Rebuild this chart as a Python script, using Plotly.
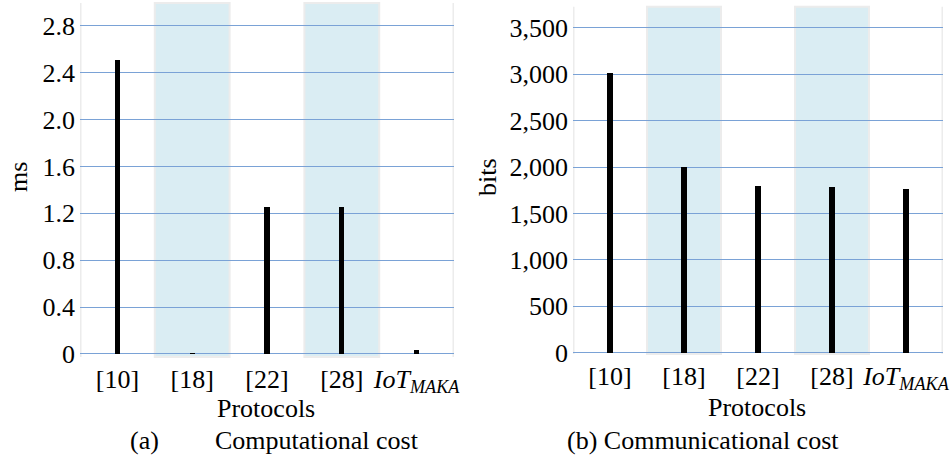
import plotly.graph_objects as go

protocols = ["[10]", "[18]", "[22]", "[28]", "<i>IoT<sub>MAKA</sub></i>"]
comp_cost_ms = [2.505, 0.008, 1.25, 1.25, 0.035]
comm_cost_bits = [3016, 2008, 1796, 1786, 1772]
comp_ticks = [0, 0.4, 0.8, 1.2, 1.6, 2.0, 2.4, 2.8]
comp_ticktext = ["0", "0.4", "0.8", "1.2", "1.6", "2.0", "2.4", "2.8"]
comm_ticks = [0, 500, 1000, 1500, 2000, 2500, 3000, 3500]

FONT = "Liberation Serif"
FS = 26
BAND = "#daedf3"
EDGE = "#ececec"
GRID = "#7aa2d6"

W, H = 952, 459
def px_x(x0, x1):
    return [x0 / W, x1 / W]
def px_y(top, bottom):
    return [1 - bottom / H, 1 - top / H]

xs = list(range(len(protocols)))

fig = go.Figure()
fig.add_trace(go.Bar(x=xs, y=comp_cost_ms, width=0.068, marker=dict(color="black", line=dict(width=0)),
                     xaxis="x", yaxis="y", showlegend=False))
fig.add_trace(go.Bar(x=xs, y=comm_cost_bits, width=0.068, marker=dict(color="black", line=dict(width=0)),
                     xaxis="x2", yaxis="y2", showlegend=False))

shapes = []
for xr, yr in (("x", "y"), ("x2", "y2")):
    for c in (1, 3):
        shapes.append(dict(type="rect", xref=xr, yref=yr + " domain", x0=c - 0.5, x1=c + 0.5, y0=0, y1=1,
                           fillcolor=BAND, line=dict(color=EDGE, width=2), layer="below"))
    for e in (-0.5, 4.5):
        shapes.append(dict(type="line", xref=xr, yref=yr + " domain", x0=e, x1=e, y0=0, y1=1,
                           line=dict(color=EDGE, width=3), layer="below"))

axis_common = dict(showline=False, zeroline=False, ticks="", automargin=False,
                   tickfont=dict(family=FONT, size=FS, color="black"))

fig.update_layout(
    width=W, height=H,
    margin=dict(l=0, r=0, t=0, b=0),
    paper_bgcolor="white", plot_bgcolor="rgba(0,0,0,0)",
    bargap=0,
    shapes=shapes,
    xaxis=dict(domain=px_x(80, 454), range=[-0.5, 4.5], tickvals=xs, ticktext=protocols,
               showgrid=False, anchor="y", ticklabelstandoff=4, **axis_common),
    yaxis=dict(domain=px_y(3, 357), range=[-0.026, 2.994], tickvals=comp_ticks, ticktext=comp_ticktext,
               showgrid=True, gridcolor=GRID, gridwidth=1, anchor="x", ticklabelstandoff=4, **axis_common),
    xaxis2=dict(domain=px_x(573, 943), range=[-0.5, 4.5], tickvals=xs, ticktext=protocols,
                showgrid=False, anchor="y2", ticklabelstandoff=4, **axis_common),
    yaxis2=dict(domain=px_y(6.7, 354), range=[-14, 3728], tickvals=comm_ticks, tickformat=",",
                showgrid=True, gridcolor=GRID, gridwidth=1, anchor="x2", ticklabelstandoff=4, **axis_common),
)

def ann(text, x, y, angle=0):
    fig.add_annotation(text=text, x=x / W, y=1 - y / H, xref="paper", yref="paper", showarrow=False,
                       xanchor="center", yanchor="middle", textangle=angle,
                       font=dict(family=FONT, size=FS, color="black"))

ann("ms", 19, 177, -90)
ann("bits", 488, 177, -90)
ann("Protocols", 266, 408)
ann("Protocols", 757, 407)
ann("(a)", 144, 440)
ann("Computational cost", 317, 440)
ann("(b) Communicational cost", 703, 440)

fig.write_html("out.html", config={"displayModeBar": False},
               post_script="document.body.style.margin='0px';document.body.style.overflow='hidden';")
